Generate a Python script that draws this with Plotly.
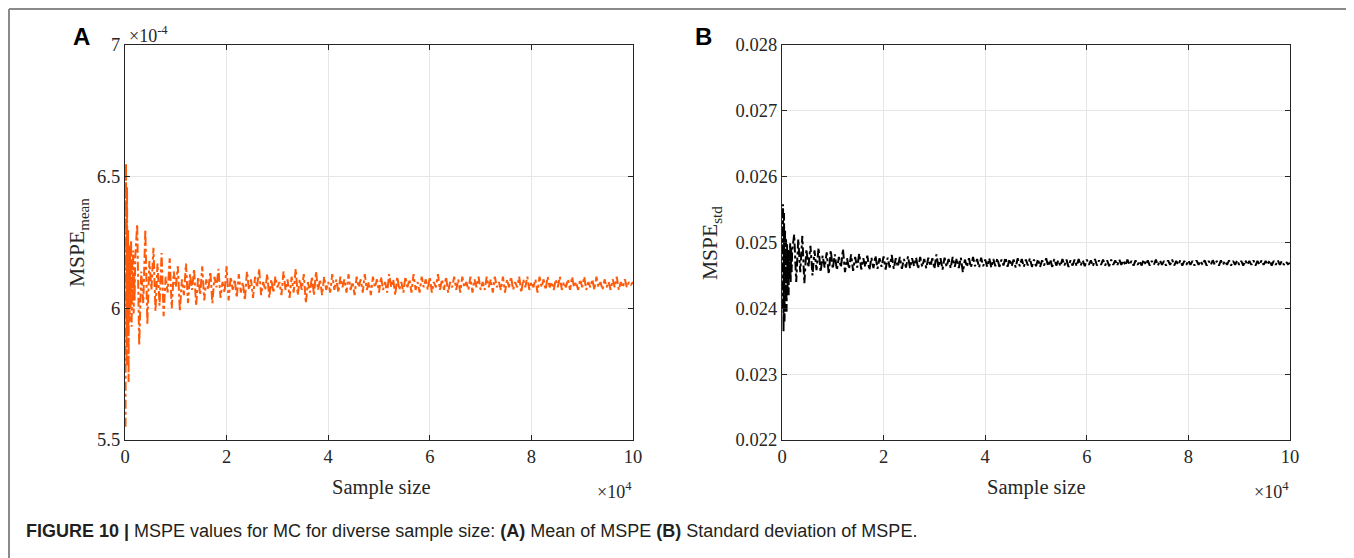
import plotly.graph_objects as go

# sample sizes: every 100 up to 2000, then every 400 up to 1e5
sample_size = list(range(100, 2001, 100)) + list(range(2400, 100001, 400))

# MSPE mean, in units of 1e-4
mspe_mean = [
    5.55, 6.55, 5.78, 6.46, 5.90, 6.30, 5.72, 6.24, 5.95, 6.21,
    6.00, 6.26, 5.93, 6.17, 6.04, 6.22, 5.98, 6.12, 6.03, 6.19,
    6.32, 5.86, 6.14, 6.02, 6.30, 5.94, 6.18, 6.07, 6.23, 5.99,
    6.17, 6.01, 6.21, 5.97, 6.12, 6.06, 6.19, 6.00, 6.14, 6.08,
    6.16, 5.99, 6.11, 6.05, 6.17, 6.02, 6.13, 6.07, 6.15, 6.01,
    6.12, 6.05, 6.16, 6.03, 6.11, 6.07, 6.14, 6.02, 6.12, 6.08,
    6.15, 6.04, 6.10, 6.06, 6.16, 6.03, 6.12, 6.07, 6.11, 6.04,
    6.13, 6.06, 6.10, 6.03, 6.14, 6.07, 6.11, 6.04, 6.12, 6.08,
    6.15, 6.05, 6.10, 6.07, 6.13, 6.04, 6.11, 6.06, 6.12, 6.08,
    6.10, 6.05, 6.14, 6.07, 6.11, 6.04, 6.12, 6.06, 6.15, 6.05,
    6.11, 6.07, 6.13, 6.02, 6.10, 6.06, 6.12, 6.05, 6.14, 6.07,
    6.11, 6.05, 6.12, 6.07, 6.10, 6.06, 6.13, 6.07, 6.11, 6.06,
    6.12, 6.08, 6.11, 6.06, 6.13, 6.07, 6.10, 6.05, 6.12, 6.08,
    6.11, 6.06, 6.13, 6.07, 6.10, 6.05, 6.12, 6.08, 6.11, 6.06,
    6.12, 6.07, 6.10, 6.06, 6.13, 6.08, 6.11, 6.05, 6.12, 6.07,
    6.10, 6.06, 6.12, 6.08, 6.11, 6.06, 6.13, 6.07, 6.10, 6.06,
    6.12, 6.08, 6.11, 6.07, 6.12, 6.06, 6.10, 6.08, 6.13, 6.07,
    6.11, 6.07, 6.12, 6.06, 6.10, 6.08, 6.12, 6.07, 6.11, 6.06,
    6.12, 6.08, 6.10, 6.07, 6.12, 6.06, 6.11, 6.08, 6.12, 6.07,
    6.10, 6.07, 6.12, 6.08, 6.11, 6.06, 6.12, 6.08, 6.10, 6.07,
    6.12, 6.06, 6.11, 6.08, 6.12, 6.07, 6.10, 6.08, 6.12, 6.06,
    6.11, 6.08, 6.12, 6.07, 6.10, 6.08, 6.11, 6.06, 6.12, 6.08,
    6.11, 6.07, 6.12, 6.08, 6.10, 6.07, 6.11, 6.08, 6.12, 6.07,
    6.10, 6.08, 6.11, 6.07, 6.12, 6.08, 6.10, 6.07, 6.11, 6.08,
    6.12, 6.07, 6.10, 6.08, 6.11, 6.07, 6.12, 6.08, 6.10, 6.07,
    6.11, 6.08, 6.10, 6.07, 6.11, 6.08, 6.12, 6.07, 6.10, 6.08,
    6.11, 6.08, 6.10, 6.09, 6.10,
]

# MSPE standard deviation (panel B)
mspe_std = [
    0.02400, 0.02558, 0.02365, 0.02545, 0.02380, 0.02520, 0.02410, 0.02505, 0.02395, 0.02498,
    0.02430, 0.02490, 0.02420, 0.02485, 0.02445, 0.02500, 0.02440, 0.02492, 0.02455, 0.02488,
    0.02512, 0.02440, 0.02505, 0.02455, 0.02510, 0.02438, 0.02490, 0.02462, 0.02495, 0.02450,
    0.02488, 0.02458, 0.02492, 0.02455, 0.02480, 0.02462, 0.02485, 0.02452, 0.02488, 0.02460,
    0.02482, 0.02458, 0.02478, 0.02462, 0.02490, 0.02455, 0.02476, 0.02460, 0.02482, 0.02457,
    0.02478, 0.02462, 0.02483, 0.02459, 0.02476, 0.02463, 0.02480, 0.02458, 0.02477, 0.02461,
    0.02480, 0.02460, 0.02476, 0.02463, 0.02479, 0.02459, 0.02477, 0.02462, 0.02481, 0.02460,
    0.02476, 0.02463, 0.02478, 0.02460, 0.02475, 0.02462, 0.02479, 0.02461, 0.02476, 0.02464,
    0.02477, 0.02460, 0.02478, 0.02463, 0.02475, 0.02461, 0.02477, 0.02464, 0.02476, 0.02460,
    0.02482, 0.02462, 0.02476, 0.02459, 0.02477, 0.02463, 0.02475, 0.02461, 0.02478, 0.02463,
    0.02476, 0.02461, 0.02477, 0.02455, 0.02474, 0.02463, 0.02476, 0.02462, 0.02478, 0.02464,
    0.02475, 0.02462, 0.02477, 0.02464, 0.02474, 0.02463, 0.02476, 0.02462, 0.02475, 0.02464,
    0.02476, 0.02463, 0.02474, 0.02465, 0.02477, 0.02463, 0.02475, 0.02464, 0.02474, 0.02462,
    0.02476, 0.02464, 0.02475, 0.02463, 0.02474, 0.02465, 0.02476, 0.02463, 0.02474, 0.02464,
    0.02475, 0.02463, 0.02473, 0.02465, 0.02476, 0.02464, 0.02474, 0.02463, 0.02475, 0.02465,
    0.02473, 0.02464, 0.02475, 0.02465, 0.02474, 0.02463, 0.02473, 0.02465, 0.02474, 0.02464,
    0.02475, 0.02465, 0.02473, 0.02464, 0.02474, 0.02466, 0.02473, 0.02464, 0.02475, 0.02465,
    0.02473, 0.02466, 0.02474, 0.02465, 0.02473, 0.02464, 0.02474, 0.02466, 0.02473, 0.02465,
    0.02474, 0.02466, 0.02473, 0.02465, 0.02474, 0.02466, 0.02472, 0.02465, 0.02473, 0.02466,
    0.02472, 0.02465, 0.02474, 0.02466, 0.02473, 0.02465, 0.02472, 0.02466, 0.02474, 0.02465,
    0.02473, 0.02466, 0.02472, 0.02465, 0.02473, 0.02466, 0.02474, 0.02465, 0.02472, 0.02466,
    0.02473, 0.02465, 0.02472, 0.02466, 0.02473, 0.02466, 0.02472, 0.02465, 0.02473, 0.02466,
    0.02472, 0.02466, 0.02473, 0.02465, 0.02472, 0.02466, 0.02473, 0.02466, 0.02472, 0.02465,
    0.02473, 0.02466, 0.02472, 0.02466, 0.02473, 0.02465, 0.02472, 0.02466, 0.02473, 0.02466,
    0.02472, 0.02465, 0.02473, 0.02466, 0.02472, 0.02466, 0.02473, 0.02465, 0.02472, 0.02466,
    0.02473, 0.02466, 0.02472, 0.02466, 0.02473, 0.02465, 0.02472, 0.02466, 0.02473, 0.02466,
    0.02472, 0.02466, 0.02471, 0.02467, 0.02469,
]

x_ticks = [0, 20000, 40000, 60000, 80000, 100000]
x_ticktext = ['0', '2', '4', '6', '8', '10']
ya_ticks = [5.5, 6, 6.5, 7]
ya_ticktext = ['5.5', '6', '6.5', '7']
yb_ticks = [0.022, 0.023, 0.024, 0.025, 0.026, 0.027, 0.028]

assert len(sample_size) == len(mspe_mean) == len(mspe_std)

W, H = 1354, 558
OFF = 8  # page body margin: figure starts 8px in from the window corner
def px(x): return (x - OFF) / W
def py(y): return 1 - (y - OFF) / H

SERIF = 'Liberation Serif'
SANS = 'Liberation Sans'

fig = go.Figure()
fig.add_trace(go.Scatter(x=sample_size, y=mspe_mean, mode='lines',
                         line=dict(color='#ff5a0a', width=2, dash='dashdot'),
                         xaxis='x', yaxis='y', showlegend=False))
fig.add_trace(go.Scatter(x=sample_size, y=mspe_std, mode='lines',
                         line=dict(color='#000000', width=2, dash='dashdot'),
                         xaxis='x2', yaxis='y2', showlegend=False))

axis_common = dict(showline=True, linecolor='#262626', linewidth=1.2, mirror='allticks',
                   ticks='inside', ticklen=5, tickcolor='#262626', automargin=False,
                   showgrid=True, gridcolor='#e6e6e6', gridwidth=1, zeroline=False,
                   tickfont=dict(family=SERIF, size=18.5, color='#262626'))

dom_y = [py(440), py(45)]
fig.update_layout(
    width=W, height=H, margin=dict(l=0, r=0, t=0, b=0, autoexpand=False),
    paper_bgcolor='white', plot_bgcolor='white',
    xaxis=dict(domain=[px(125), px(633)], range=[0, 100000], tickvals=x_ticks,
               ticktext=x_ticktext, anchor='y', **axis_common),
    yaxis=dict(domain=dom_y, range=[5.5, 7], tickvals=ya_ticks, ticktext=ya_ticktext,
               anchor='x', **axis_common),
    xaxis2=dict(domain=[px(782), px(1290)], range=[0, 100000], tickvals=x_ticks,
                ticktext=x_ticktext, anchor='y2', **axis_common),
    yaxis2=dict(domain=dom_y, range=[0.022, 0.028], tickvals=yb_ticks,
                tickformat='.3f', anchor='x2', **axis_common),
)

ann = []
def note(text, x, y, size, family=SERIF, angle=0, xanchor='center', yanchor='middle', color='#262626'):
    ann.append(dict(text=text, x=px(x), y=py(y), xref='paper', yref='paper', showarrow=False,
                    textangle=angle, xanchor=xanchor, yanchor=yanchor,
                    font=dict(family=family, size=size, color=color)))

note('<b>A</b>', 81, 37, 24, family=SANS, color='black')
note('<b>B</b>', 703, 37, 24, family=SANS, color='black')
note('\u00d710<sup>-4</sup>', 127, 35, 18, xanchor='left')
note('\u00d710<sup>4</sup>', 634, 490, 18, xanchor='right')
note('\u00d710<sup>4</sup>', 1291, 490, 18, xanchor='right')
note('Sample size', 381, 487, 20.5)
note('Sample size', 1036, 487, 20.5)
note('MSPE<sub>mean</sub>', 79, 243, 21.5, angle=-90)
note('MSPE<sub>std</sub>', 712, 243, 21.5, angle=-90)
note('<b>FIGURE 10 |</b> MSPE values for MC for diverse sample size: <b>(A)</b> Mean of MSPE '
     '<b>(B)</b> Standard deviation of MSPE.', 24, 531, 18, family=SANS, xanchor='left',
     color='#231f20')
fig.update_layout(annotations=ann)

# outer frame of the figure
frame = dict(type='line', xref='paper', yref='paper', line=dict(color='#8a8a8a', width=2))
fig.update_layout(shapes=[
    dict(frame, x0=px(9), x1=px(1350), y0=py(9), y1=py(9)),
    dict(frame, x0=px(9), x1=px(9), y0=py(9), y1=0),
    dict(frame, x0=px(1350), x1=px(1350), y0=py(9), y1=0),
])

fig.write_html("out.html")
